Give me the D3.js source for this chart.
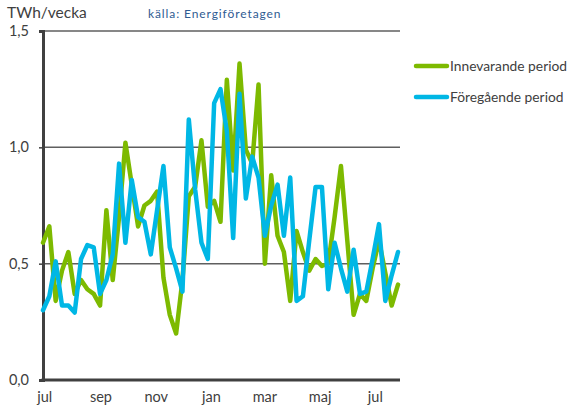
<!DOCTYPE html>
<html lang="sv">
<head>
<meta charset="UTF-8">
<title>Elanvändning per vecka</title>
<style>
  body { margin: 0; background: #fff; }
  svg { display: block; font-family: Lato, "Open Sans", sans-serif; }
</style>
</head>
<body>
<div id="chart"></div>
<script src="https://cdn.jsdelivr.net/npm/d3@7/dist/d3.min.js"></script>
<script>
// veckovärden, TWh/vecka
var startDate = new Date(2018, 5, 29);
var innevarande = [0.59, 0.66, 0.34, 0.47, 0.55, 0.37, 0.43, 0.39, 0.37, 0.32,
  0.73, 0.43, 0.70, 1.02, 0.84, 0.66, 0.75, 0.77, 0.81, 0.44,
  0.28, 0.20, 0.43, 0.79, 0.83, 1.03, 0.745, 0.77, 0.68, 1.29,
  0.90, 1.36, 0.99, 0.93, 1.27, 0.50, 0.88, 0.62, 0.55, 0.34,
  0.64, 0.55, 0.47, 0.52, 0.49, 0.50, 0.70, 0.92, 0.60, 0.28,
  0.37, 0.34, 0.48, 0.60, 0.46, 0.32, 0.41];
var foregaende = [0.30, 0.36, 0.51, 0.32, 0.32, 0.29, 0.52, 0.58, 0.57, 0.37,
  0.43, 0.54, 0.93, 0.59, 0.86, 0.70, 0.68, 0.54, 0.73, 0.92,
  0.57, 0.48, 0.38, 1.12, 0.82, 0.59, 0.52, 1.19, 1.25, 1.07,
  0.61, 1.23, 0.78, 0.96, 0.87, 0.62, 0.75, 0.84, 0.62, 0.87,
  0.34, 0.36, 0.60, 0.83, 0.83, 0.39, 0.59, 0.48, 0.38, 0.56,
  0.37, 0.38, 0.52, 0.67, 0.34, 0.45, 0.55];
var yTicks = [0, 0.5, 1, 1.5];
var monthNames = ['jan', 'feb', 'mar', 'apr', 'maj', 'jun', 'jul', 'aug', 'sep', 'okt', 'nov', 'dec'];
var seriesNames = ['Innevarande period', 'Föregående period'];
var colors = ['#7dba00', '#00b7e5'];

var width = 568, height = 406;
var plotLeft = 43, plotRight = 398, plotTop = 31, plotBottom = 380;

var weeks = innevarande.map(function(v, i) { return d3.timeWeek.offset(startDate, i); });
var series = [innevarande, foregaende].map(function(vals, k) {
  return { name: seriesNames[k], color: colors[k],
    points: vals.map(function(v, i) { return { date: weeks[i], v: v }; }) };
});

var x = d3.scaleTime().domain([weeks[0], weeks[weeks.length - 1]]).range([plotLeft, plotRight]);
var y = d3.scaleLinear().domain([0, 1.5]).range([plotBottom, plotTop]);

var svg = d3.select('#chart').append('svg')
  .attr('width', width)
  .attr('height', height);

// rutnät
svg.append('g').selectAll('line')
  .data(yTicks.slice(1))
  .enter().append('line')
  .attr('x1', plotLeft).attr('x2', 400)
  .attr('y1', function(d) { return y(d); })
  .attr('y2', function(d) { return y(d); })
  .attr('stroke', '#5f5f5f')
  .attr('stroke-width', 1.5);

// y-axel
var yAxis = svg.append('g')
  .attr('transform', 'translate(' + plotLeft + ',0)')
  .call(d3.axisLeft(y).tickValues(yTicks).tickSize(4).tickPadding(10)
    .tickFormat(function(d) { return d3.format('.1f')(d).replace('.', ','); }));
yAxis.select('.domain').attr('stroke', '#404040').attr('stroke-width', 3);
yAxis.selectAll('.tick line').attr('stroke', '#404040').attr('stroke-width', 1.5);
yAxis.selectAll('.tick text').attr('fill', '#404040').attr('font-size', 14.5)
  .attr('font-family', 'Lato, sans-serif');

// x-axel
svg.append('line')
  .attr('x1', plotLeft - 1.5).attr('x2', 400)
  .attr('y1', plotBottom).attr('y2', plotBottom)
  .attr('stroke', '#404040').attr('stroke-width', 3);

svg.append('g').selectAll('text')
  .data(x.ticks(d3.timeMonth.every(2)))
  .enter().append('text')
  .attr('x', function(d) { return x(d); })
  .attr('y', 402)
  .attr('text-anchor', 'middle')
  .attr('font-size', 14.5)
  .attr('fill', '#404040')
  .text(function(d) { return monthNames[d.getMonth()]; });

// linjer
var line = d3.line()
  .x(function(d) { return x(d.date); })
  .y(function(d) { return y(d.v); });

svg.append('g').selectAll('path')
  .data(series)
  .enter().append('path')
  .attr('d', function(d) { return line(d.points); })
  .attr('fill', 'none')
  .attr('stroke', function(d) { return d.color; })
  .attr('stroke-width', 4.5)
  .attr('stroke-linejoin', 'round')
  .attr('stroke-linecap', 'round');

// förklaring
var legend = svg.append('g').selectAll('g')
  .data(series)
  .enter().append('g')
  .attr('transform', function(d, i) { return 'translate(416,' + (66 + i * 31) + ')'; });
legend.append('line')
  .attr('x1', 0).attr('x2', 31)
  .attr('stroke', function(d) { return d.color; })
  .attr('stroke-width', 4.5)
  .attr('stroke-linecap', 'round');
legend.append('text')
  .attr('x', 34).attr('y', 5)
  .attr('font-size', 13.8)
  .attr('fill', '#404040')
  .text(function(d) { return d.name; });

// rubriker
svg.append('text')
  .attr('x', 7).attr('y', 18)
  .attr('font-size', 15.5)
  .attr('fill', '#404040')
  .text('TWh/vecka');
svg.append('text')
  .attr('x', 148).attr('y', 18)
  .attr('font-size', 12)
  .attr('letter-spacing', 0.9)
  .attr('fill', '#2f5b92')
  .text('källa: Energiföretagen');
</script>
</body>
</html>
